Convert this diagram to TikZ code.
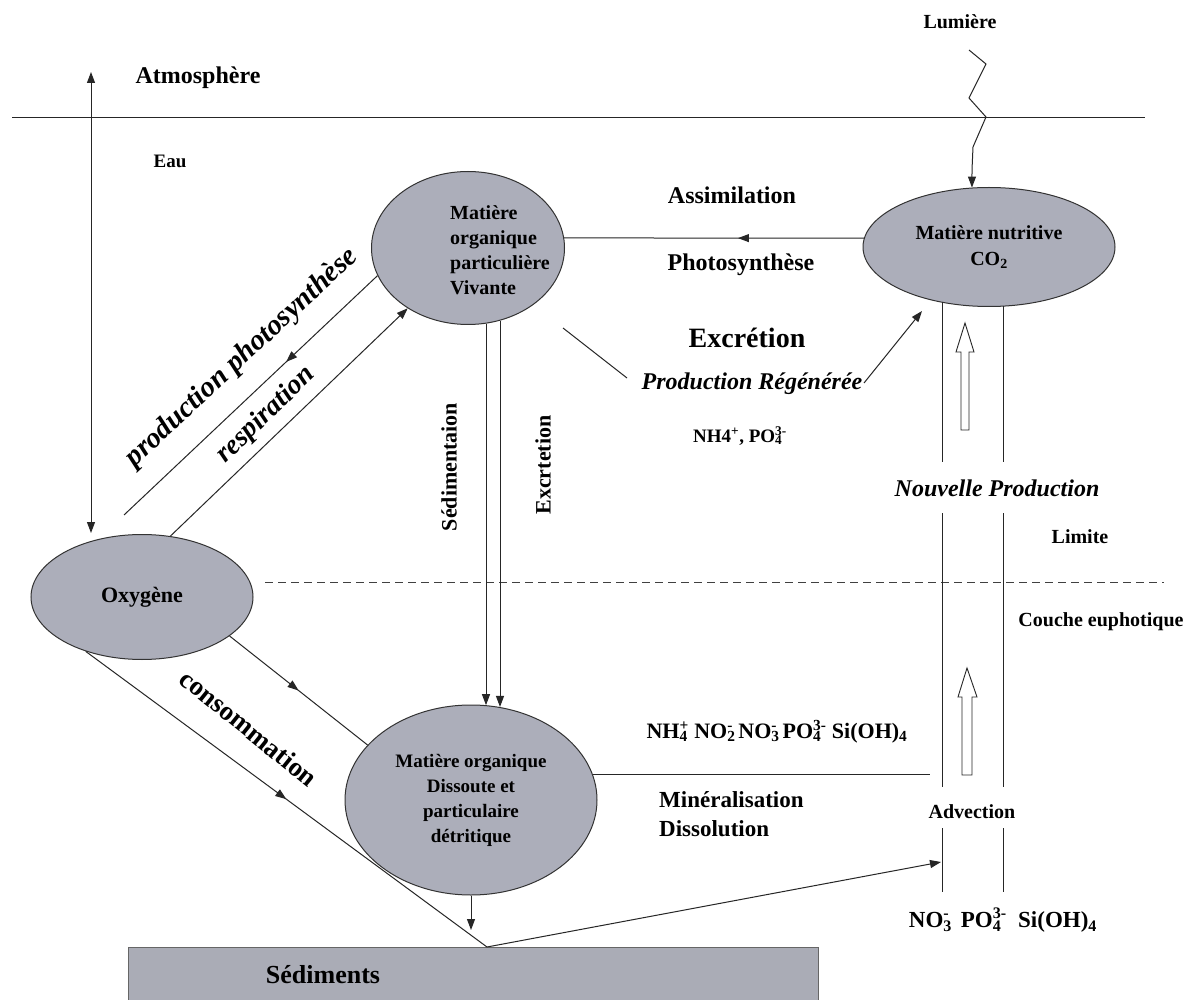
\documentclass[tikz,border=0pt]{standalone}
\usepackage{fontspec}
\setmainfont{Liberation Serif}
\usetikzlibrary{shapes.geometric,arrows.meta,decorations.markings,calc}
\definecolor{ellfill}{RGB}{172,174,186}
\definecolor{sedfill}{RGB}{170,172,182}
\newcommand\ionsub[2]{\makebox[0pt][l]{\textsubscript{#1}}\textsuperscript{#2}}
\begin{document}
\begin{tikzpicture}[x=1pt,y=-1pt,
  ln/.style={line width=1pt, draw=black!85},
  tipend/.style={-{Triangle[length=11pt,width=8pt]}},
  tipboth/.style={{Triangle[length=11pt,width=8pt]}-{Triangle[length=11pt,width=8pt]}},
  midarrow/.style={postaction={decorate},decoration={markings,mark=at position #1 with {\arrow{Triangle[length=11pt,width=8pt]}}}},
  ell/.style={ellipse, draw=black!80, line width=1pt, fill=ellfill, inner sep=0pt, align=center},
  lbl/.style={inner sep=0pt, font=\bfseries\fontsize{#1pt}{#1pt}\selectfont},
  ilbl/.style={inner sep=0pt, font=\bfseries\itshape\fontsize{#1pt}{#1pt}\selectfont},
]
\useasboundingbox (0,0) rectangle (1200,1000);
\fill[white] (0,0) rectangle (1200,1000);

% sediments
\node[fill=sedfill, draw=black!60, line width=0.6pt, minimum width=690pt, minimum height=56pt, inner sep=0pt] (sed) at (473,975) {};
\node[lbl=26] (sedtxt) at (323,975) {Sédiments};

% boundaries
\coordinate (surfL) at (12,118);
\coordinate (surfR) at (1145,118);
\draw[ln] (surfL) -- (surfR);
\coordinate (limL) at (265,582);
\coordinate (limR) at (1164,582);
\draw[line width=1pt, draw=black!75, dash pattern=on 8pt off 5pt] (limL) -- (limR);

% ellipses
\node[ell, minimum width=193pt, minimum height=153pt] (viv) at (468,248) {};
\node[lbl=20, align=left, font=\bfseries\fontsize{20pt}{25pt}\selectfont] (vivtxt) at (500,250) {Matière\\organique\\particulière\\Vivante};
\node[ell, minimum width=252pt, minimum height=119pt, font=\bfseries\fontsize{20pt}{26pt}\selectfont] (nut) at (989,247) {Matière nutritive\\CO\textsubscript{2}};
\node[ell, minimum width=252pt, minimum height=190pt, font=\bfseries\fontsize{19pt}{25pt}\selectfont] (det) at (471,800) {Matière organique\\Dissoute et\\particulaire\\détritique};
\node[ell, minimum width=222pt, minimum height=125pt, font=\bfseries\fontsize{22pt}{22pt}\selectfont] (oxy) at (142,597) {Oxygène};

% labels
\node[lbl=24] (atm) at (198,78) {Atmosphère};
\node[lbl=19] (eau) at (170,161) {Eau};
\node[lbl=20] (lum) at (960,22) {Lumière};
\node[lbl=24] (assim) at (732,195) {Assimilation};
\node[lbl=24] (photo) at (741,265) {Photosynthèse};
\node[lbl=28] (excr) at (747,338) {Excrétion};
\node[ilbl=24] (prodreg) at (752,384) {Production Régénérée};
\node[lbl=19] (nh4) at (740,436) {NH4\textsuperscript{+}, PO\ionsub{4}{3-}};
\node[lbl=22, rotate=90] (sedim) at (449,467) {Sédimentaion};
\node[lbl=22, rotate=90] (excrt) at (543,465) {Excrtetion};
\node[ilbl=29, rotate=43] (prodphoto) at (242,358) {production photosynthèse};
\node[ilbl=28, rotate=44] (resp) at (266,415) {respiration};
\node[lbl=27, rotate=-39] (conso) at (249,728) {consommation};
\node[lbl=22] (ions1) at (777,732) {NH\ionsub{4}{+} NO\ionsub{2}{-} NO\ionsub{3}{-} PO\ionsub{4}{3-} Si(OH)\textsubscript{4}};
\node[lbl=23, anchor=west] (miner) at (659,800) {Minéralisation};
\node[lbl=23, anchor=west] (dissol) at (659,829) {Dissolution};
\node[ilbl=24] (nouv) at (997,488) {Nouvelle Production};
\node[lbl=20] (limite) at (1080,537) {Limite};
\node[lbl=20] (couche) at (1101,622) {Couche euphotique};
\node[lbl=20] (advtxt) at (972,812) {Advection};
\node[lbl=23] (ions2) at (1003,920) {NO\ionsub{3}{-}\ \ PO\ionsub{4}{3-}\ \ Si(OH)\textsubscript{4}};

% atmosphere double arrow
\coordinate (atmtop) at (91,72);
\coordinate (oxytop) at (91,533);
\draw[ln, tipboth] (atmtop) -- (oxytop);

% light
\coordinate (lumstart) at (969,50);
\draw[ln, tipend] (lumstart) -- (986,64) -- (969,98) -- (986,117) -- (973,147) -- (972,170) -- (nut.106);

% assimilation
\draw[ln, midarrow=0.42] (nut.176) -- (viv.6);

% production photosynthese / respiration
\coordinate (ppend) at (124,515);
\draw[ln, midarrow=0.36] (viv.197) -- (ppend);
\draw[ln, tipend] (oxy.65) -- (viv.225);

% consommation
\draw[ln, midarrow=0.5] (oxy.-24) -- (det.152);
\coordinate (vpt) at (487,947);
\draw[ln, midarrow=0.5] (oxy.224) -- (vpt);

% sedimentation / excretion
\coordinate (s1) at (486,0);
\coordinate (s2) at (500,0);
\draw[ln, tipend] (viv.-76 -| s1) -- (det.81 -| s1);
\draw[ln, tipend] (viv.-66 -| s2) -- (det.73 -| s2);

% excretion regenerated
\coordinate (exa) at (563,328);
\coordinate (exb) at (627,378);
\draw[ln] (exa) -- (exb);
\coordinate (exc) at (864,383);
\coordinate (exd) at (922,311);
\draw[ln, tipend] (exc) -- (exd);

% mineralisation line
\coordinate (minR) at (930,775);
\draw[ln] (det.12) -- (det.12 -| minR);

% detritic to sediments
\coordinate (detbot) at (471,930);
\draw[ln, tipend] (det.south) -- (detbot);

% advection channel
\coordinate (advtip) at (941,862);
\draw[ln, tipend] (vpt) -- (advtip);
\draw[ln] (942,302) -- (942,462);
\draw[ln] (942,513) -- (942,787);
\draw[ln] (942,828) -- (942,892);
\draw[ln] (1003,306) -- (1003,462);
\draw[ln] (1003,513) -- (1003,787);
\draw[ln] (1003,828) -- (1003,892);

% hollow arrows
\draw[ln, fill=white, line width=0.9pt] (961,430) -- (961,352) -- (956,352) -- (965,323) -- (974,352) -- (969,352) -- (969,430) -- cycle;
\draw[ln, fill=white, line width=0.9pt] (962,775) -- (962,697) -- (958,697) -- (967,668) -- (977,697) -- (972,697) -- (972,775) -- cycle;
\end{tikzpicture}
\end{document}
